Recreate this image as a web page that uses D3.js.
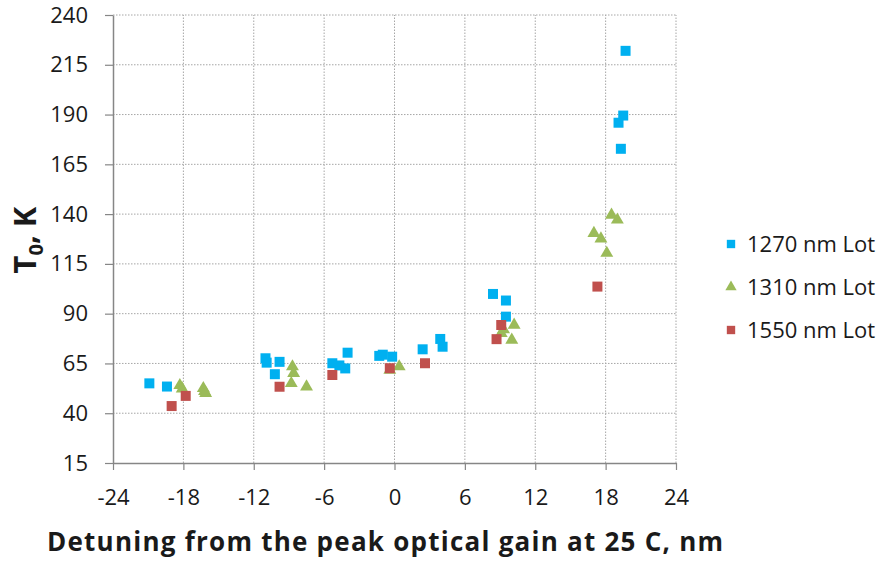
<!DOCTYPE html>
<html>
<head>
<meta charset="utf-8">
<script src="https://cdn.jsdelivr.net/npm/d3@7"></script>
<style>
  body { margin: 0; background: #fff; }
  text { font-family: "Open Sans", "Noto Sans", sans-serif; fill: #1a1a1a; }
</style>
</head>
<body>
<script>
// series: [detuning nm, T0 K]
const lot1270 = [
  [-20.9, 55.0], [-19.4, 53.4], [-11.0, 67.6], [-10.9, 65.4], [-9.8, 65.8],
  [-10.2, 59.6], [-5.3, 65.1], [-4.7, 64.0], [-4.2, 62.5], [-4.0, 70.4],
  [-1.3, 68.8], [-1.0, 69.4], [-0.2, 68.4], [2.4, 72.1], [3.9, 77.3],
  [4.1, 73.4], [8.4, 99.9], [9.5, 96.6], [9.5, 88.5], [19.7, 222.0],
  [19.5, 189.5], [19.1, 185.9], [19.3, 172.8]
];
const lot1310 = [
  [-18.3, 54.0], [-18.1, 52.3], [-16.3, 52.5], [-16.2, 51.0], [-16.1, 50.0],
  [-8.7, 63.4], [-8.6, 60.1], [-8.8, 55.0], [-7.5, 53.3], [0.4, 63.4],
  [-0.4, 61.7], [9.1, 80.2], [9.3, 82.0], [10.2, 84.3], [10.0, 76.8],
  [18.5, 139.6], [19.0, 137.1], [17.0, 130.4], [17.6, 127.6], [18.1, 120.4]
];
const lot1550 = [
  [-19.0, 43.6], [-17.8, 48.7], [-9.8, 53.3], [-5.3, 59.2], [-0.4, 62.6],
  [2.6, 65.1], [9.1, 84.3], [8.7, 77.2], [17.3, 103.6]
];
const xTicks = [-24, -18, -12, -6, 0, 6, 12, 18, 24];
const yTicks = [15, 40, 65, 90, 115, 140, 165, 190, 215, 240];
const legendNames = ['1270 nm Lot', '1310 nm Lot', '1550 nm Lot'];

const width = 880, height = 564;
const svg = d3.select('body').append('svg')
  .attr('width', width)
  .attr('height', height);

const x = d3.scaleLinear().domain([-24, 24]).range([113, 676]);
const y = d3.scaleLinear().domain([15, 240]).range([463, 15]);

// gridlines
svg.append('g')
  .selectAll('line')
  .data(yTicks.slice(1))
  .join('line')
  .attr('x1', x(-24)).attr('x2', x(24))
  .attr('y1', d => y(d)).attr('y2', d => y(d))
  .attr('stroke', '#a6a6a6')
  .attr('stroke-dasharray', '1.5,1.5');

svg.append('g')
  .selectAll('line')
  .data(xTicks.slice(1))
  .join('line')
  .attr('x1', d => x(d)).attr('x2', d => x(d))
  .attr('y1', y(15)).attr('y2', y(240))
  .attr('stroke', '#a6a6a6')
  .attr('stroke-dasharray', '1.5,1.5');

// axes
const xAxis = svg.append('g')
  .attr('transform', `translate(0,${y(15)})`)
  .call(d3.axisBottom(x).tickValues(xTicks).tickFormat(d => String(d))
    .tickSize(7).tickSizeOuter(0).tickPadding(20));
const yAxis = svg.append('g')
  .attr('transform', `translate(${x(-24)},0)`)
  .call(d3.axisLeft(y).tickValues(yTicks).tickFormat(d => String(d))
    .tickSize(8).tickSizeOuter(0).tickPadding(17));

[xAxis, yAxis].forEach(g => {
  g.select('.domain').attr('stroke', '#868686').attr('stroke-width', 1.5);
  g.selectAll('.tick line').attr('stroke', '#868686').attr('stroke-width', 1.2);
  g.selectAll('.tick text')
    .attr('font-size', 22)
    .attr('font-family', '"Open Sans", sans-serif')
    .attr('fill', '#1a1a1a');
});
xAxis.selectAll('.tick text').attr('dy', 0).attr('y', 42);

// markers
const colors = ['#00b0f0', '#9bbb59', '#c0504d'];
const square = d3.symbol().type(d3.symbolSquare).size(100);
const triangle = d3.symbol().type(d3.symbolTriangle).size(72);

svg.append('g')
  .selectAll('path')
  .data(lot1270)
  .join('path')
  .attr('d', square)
  .attr('transform', d => `translate(${x(d[0])},${y(d[1])})`)
  .attr('fill', colors[0]);

svg.append('g')
  .selectAll('path')
  .data(lot1310)
  .join('path')
  .attr('d', triangle)
  .attr('transform', d => `translate(${x(d[0])},${y(d[1])})`)
  .attr('fill', colors[1]);

svg.append('g')
  .selectAll('path')
  .data(lot1550)
  .join('path')
  .attr('d', square)
  .attr('transform', d => `translate(${x(d[0])},${y(d[1])})`)
  .attr('fill', colors[2]);

// legend
const legendY = [244, 287, 330];
legendNames.forEach((name, i) => {
  const row = svg.append('g').attr('transform', `translate(731,${legendY[i]})`);
  row.append('path')
    .attr('d', i === 1 ? d3.symbol().type(d3.symbolTriangle).size(55) : d3.symbol().type(d3.symbolSquare).size(70))
    .attr('fill', colors[i]);
  row.append('text')
    .attr('x', 16)
    .attr('y', 8)
    .attr('font-size', 22)
    .text(name);
});

// axis titles
svg.append('text')
  .attr('x', 47)
  .attr('y', 551)
  .attr('font-size', 26)
  .attr('font-weight', 'bold')
  .attr('textLength', 676)
  .attr('lengthAdjust', 'spacing')
  .text('Detuning from the peak optical gain at 25 C, nm');

const yTitle = svg.append('text')
  .attr('transform', 'translate(36,240) rotate(-90)')
  .attr('text-anchor', 'middle')
  .attr('font-size', 31)
  .attr('font-weight', 'bold');
yTitle.append('tspan').text('T');
yTitle.append('tspan').attr('font-size', 20).attr('dy', 7).text('0');
yTitle.append('tspan').attr('dy', -7).text(', K');
</script>
</body>
</html>
